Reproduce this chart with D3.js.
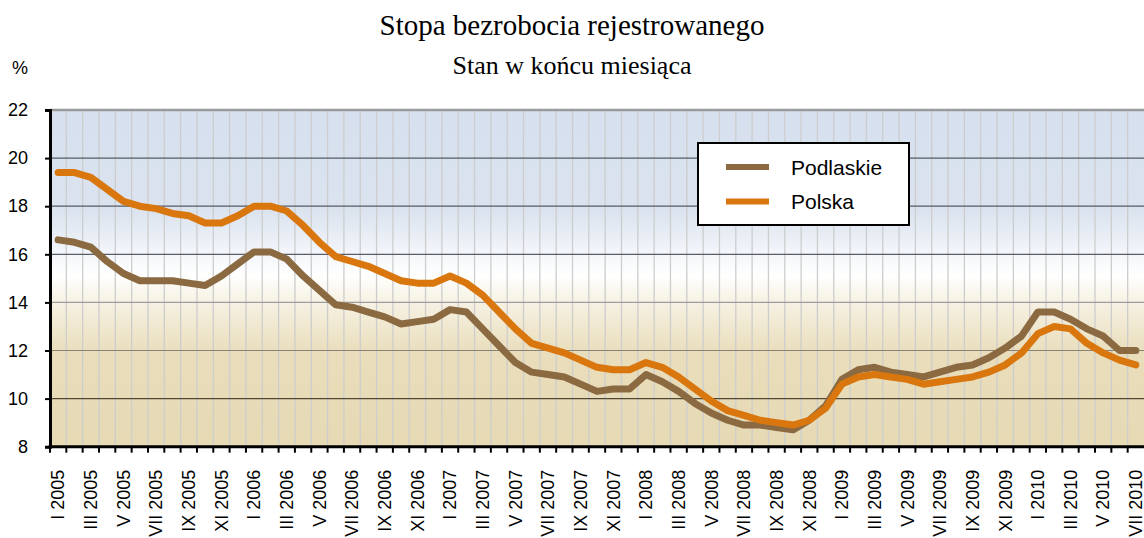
<!DOCTYPE html>
<html>
<head>
<meta charset="utf-8">
<script src="https://cdn.jsdelivr.net/npm/d3@7.9.0/dist/d3.min.js"></script>
<style>
  body { margin: 0; background: #fff; }
  svg { display: block; }
  .tick text { font-family: Arial, "Liberation Sans", sans-serif; fill: #000; }
</style>
</head>
<body>
<svg width="1144" height="538"></svg>
<script>
// months shown on the axis: I 2005 .. VII 2010
const romans = ['I', 'II', 'III', 'IV', 'V', 'VI', 'VII', 'VIII', 'IX', 'X', 'XI', 'XII'];
const years = [2005, 2006, 2007, 2008, 2009, 2010];
const lastMonth2010 = 7;

// Podlaskie, %
const podlaskie = [
  16.6, 16.5, 16.3, 15.7, 15.2, 14.9, 14.9, 14.9, 14.8, 14.7, 15.1, 15.6,
  16.1, 16.1, 15.8, 15.1, 14.5, 13.9, 13.8, 13.6, 13.4, 13.1, 13.2, 13.3,
  13.7, 13.6, 12.9, 12.2, 11.5, 11.1, 11.0, 10.9, 10.6, 10.3, 10.4, 10.4,
  11.0, 10.7, 10.3, 9.8, 9.4, 9.1, 8.9, 8.9, 8.8, 8.7, 9.1, 9.7,
  10.8, 11.2, 11.3, 11.1, 11.0, 10.9, 11.1, 11.3, 11.4, 11.7, 12.1, 12.6,
  13.6, 13.6, 13.3, 12.9, 12.6, 12.0, 12.0
];
// Polska, %
const polska = [
  19.4, 19.4, 19.2, 18.7, 18.2, 18.0, 17.9, 17.7, 17.6, 17.3, 17.3, 17.6,
  18.0, 18.0, 17.8, 17.2, 16.5, 15.9, 15.7, 15.5, 15.2, 14.9, 14.8, 14.8,
  15.1, 14.8, 14.3, 13.6, 12.9, 12.3, 12.1, 11.9, 11.6, 11.3, 11.2, 11.2,
  11.5, 11.3, 10.9, 10.4, 9.9, 9.5, 9.3, 9.1, 9.0, 8.9, 9.1, 9.6,
  10.6, 10.9, 11.0, 10.9, 10.8, 10.6, 10.7, 10.8, 10.9, 11.1, 11.4, 11.9,
  12.7, 13.0, 12.9, 12.3, 11.9, 11.6, 11.4
];
const yTicks = [8, 10, 12, 14, 16, 18, 20, 22];

const months = [];
years.forEach(yr => {
  const n = yr === 2010 ? lastMonth2010 : 12;
  for (let m = 0; m < n; m++) months.push(romans[m] + ' ' + yr);
});

const series = [
  { name: 'Podlaskie', values: podlaskie, color: '#8b6a42' },
  { name: 'Polska', values: polska, color: '#d9770e' }
];

const svg = d3.select('svg');
const plot = { left: 50, right: 1144, top: 110, bottom: 446.7 };

const x = d3.scaleBand().domain(months).range([plot.left, plot.right]).paddingInner(0).paddingOuter(0);
const y = d3.scaleLinear().domain([8, 22]).range([plot.bottom, plot.top]);

// background gradient
const defs = svg.append('defs');
const grad = defs.append('linearGradient').attr('id', 'bg')
  .attr('x1', 0).attr('y1', 0).attr('x2', 0).attr('y2', 1);
[[0, '#d6e0ee'], [0.3, '#dbe3ef'], [0.49, '#ffffff'], [0.56, '#f7f3e6'], [0.72, '#e9ddbb'], [1, '#e6d9b4']]
  .forEach(([o, c]) => grad.append('stop').attr('offset', o).attr('stop-color', c));

svg.append('rect')
  .attr('x', plot.left).attr('y', plot.top)
  .attr('width', plot.right - plot.left).attr('height', plot.bottom - plot.top)
  .attr('fill', 'url(#bg)');

// vertical gridlines at month boundaries
svg.append('g')
  .selectAll('line')
  .data(months.slice(1))
  .join('line')
  .attr('x1', d => x(d)).attr('x2', d => x(d))
  .attr('y1', plot.top).attr('y2', plot.bottom)
  .attr('stroke', '#cdcdcd')
  .attr('stroke-width', 1.3);

// horizontal gridlines
const gridColor = { 10: '#4f4634', 12: '#8a8274', 14: '#9c9c9c', 16: '#5a5e68', 18: '#555a66', 20: '#555a66' };
svg.append('g')
  .selectAll('line')
  .data(yTicks.filter(d => d > 8 && d < 22))
  .join('line')
  .attr('x1', plot.left).attr('x2', plot.right)
  .attr('y1', d => y(d)).attr('y2', d => y(d))
  .attr('stroke', d => gridColor[d])
  .attr('stroke-width', 1.2);

// top border
svg.append('line')
  .attr('x1', plot.left).attr('x2', plot.right)
  .attr('y1', plot.top).attr('y2', plot.top)
  .attr('stroke', '#9a9a9a').attr('stroke-width', 2.5);

// y axis
const yAxis = svg.append('g')
  .attr('transform', `translate(${plot.left},0)`)
  .call(d3.axisLeft(y).tickValues(yTicks).tickSize(5).tickPadding(17).tickFormat(d3.format('d')));
yAxis.select('.domain').attr('stroke', '#000').attr('stroke-width', 3);
yAxis.selectAll('.tick line').attr('stroke', '#000').attr('stroke-width', 2);
yAxis.selectAll('.tick text').attr('font-size', 18);

// x axis: ticks at month boundaries, labels every second month
const xg = svg.append('g');
xg.selectAll('line.tk')
  .data(months)
  .join('line')
  .attr('class', 'tk')
  .attr('x1', d => x(d)).attr('x2', d => x(d))
  .attr('y1', plot.bottom).attr('y2', plot.bottom + 6)
  .attr('stroke', '#000').attr('stroke-width', 2);
xg.append('line')
  .attr('x1', plot.left - 1.5).attr('x2', plot.right)
  .attr('y1', plot.bottom).attr('y2', plot.bottom)
  .attr('stroke', '#000').attr('stroke-width', 3);
xg.selectAll('text')
  .data(months.filter((d, i) => i % 2 === 0))
  .join('text')
  .attr('transform', d => `translate(${x(d) + x.bandwidth() / 2},${plot.bottom + 23}) rotate(-90)`)
  .attr('dy', '0.35em')
  .attr('text-anchor', 'end')
  .attr('font-family', 'Arial, "Liberation Sans", sans-serif')
  .attr('font-size', 18)
  .text(d => d);

// lines
const line = d3.line()
  .x((d, i) => x(months[i]) + x.bandwidth() / 2)
  .y(d => y(d));

svg.append('g')
  .selectAll('path')
  .data(series)
  .join('path')
  .attr('d', d => line(d.values))
  .attr('fill', 'none')
  .attr('stroke', d => d.color)
  .attr('stroke-width', 7)
  .attr('stroke-linejoin', 'round')
  .attr('stroke-linecap', 'round');

// legend
const lg = svg.append('g');
lg.append('rect')
  .attr('x', 698).attr('y', 143)
  .attr('width', 211).attr('height', 82)
  .attr('fill', '#fff').attr('stroke', '#000').attr('stroke-width', 2);
series.forEach((s, i) => {
  const ly = 167 + i * 34.5;
  lg.append('line')
    .attr('x1', 726).attr('x2', 769)
    .attr('y1', ly).attr('y2', ly)
    .attr('stroke', s.color).attr('stroke-width', 6);
  lg.append('text')
    .attr('x', 791).attr('y', ly + 7.5)
    .attr('font-family', 'Arial, "Liberation Sans", sans-serif')
    .attr('font-size', 21)
    .text(s.name);
});

// titles
svg.append('text')
  .attr('x', 572).attr('y', 35)
  .attr('text-anchor', 'middle')
  .attr('font-family', '"Liberation Serif", "Times New Roman", serif')
  .attr('font-size', 29)
  .text('Stopa bezrobocia rejestrowanego');
svg.append('text')
  .attr('x', 572).attr('y', 74)
  .attr('text-anchor', 'middle')
  .attr('font-family', '"Liberation Serif", "Times New Roman", serif')
  .attr('font-size', 26)
  .text('Stan w końcu miesiąca');
svg.append('text')
  .attr('x', 12).attr('y', 74)
  .attr('font-family', 'Arial, "Liberation Sans", sans-serif')
  .attr('font-size', 18)
  .text('%');
</script>
</body>
</html>
